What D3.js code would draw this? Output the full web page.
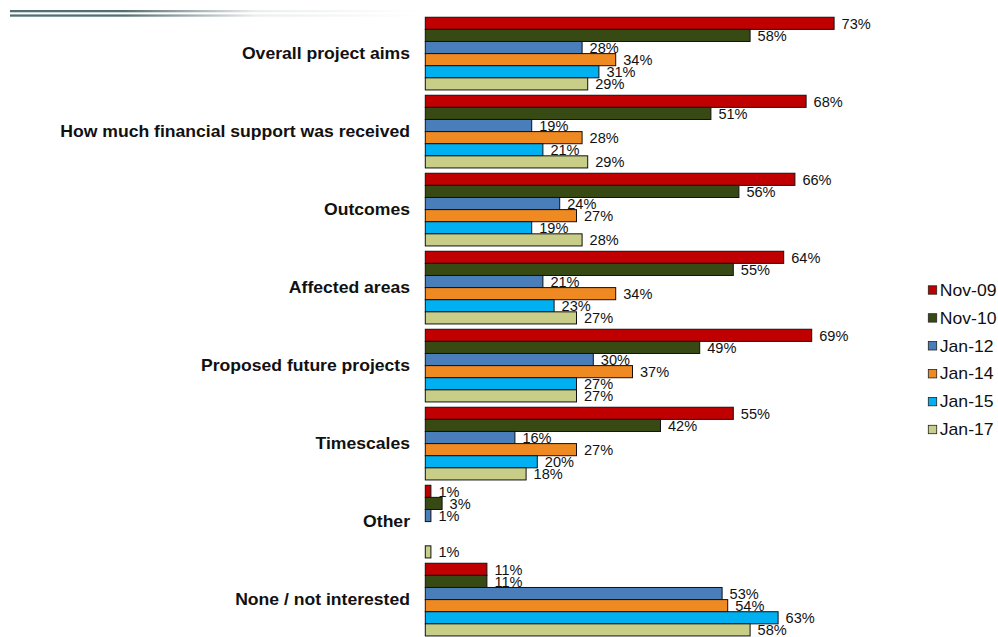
<!DOCTYPE html>
<html>
<head>
<meta charset="utf-8">
<script src="https://cdn.jsdelivr.net/npm/d3@7"></script>
<style>
  html, body { margin: 0; padding: 0; background: #fff; }
  svg { display: block; font-family: "Liberation Sans", Arial, sans-serif; }
</style>
</head>
<body>
<svg id="chart" width="998" height="637"></svg>
<script>
const categories = [
  "Overall project aims",
  "How much financial support was received",
  "Outcomes",
  "Affected areas",
  "Proposed future projects",
  "Timescales",
  "Other",
  "None / not interested"
];
const seriesNames = ["Nov-09", "Nov-10", "Jan-12", "Jan-14", "Jan-15", "Jan-17"];
const nov09 = [73, 68, 66, 64, 69, 55, 1, 11];
const nov10 = [58, 51, 56, 55, 49, 42, 3, 11];
const jan12 = [28, 19, 24, 21, 30, 16, 1, 53];
const jan14 = [34, 28, 27, 34, 37, 27, null, 54];
const jan15 = [31, 21, 19, 23, 27, 20, null, 63];
const jan17 = [29, 29, 28, 27, 27, 18, 1, 58];
const seriesColors = ["#C00000", "#384A14", "#4A7EBB", "#EF8A22", "#00B0F0", "#C8CE88"];

const seriesValues = [nov09, nov10, jan12, jan14, jan15, jan17];

const svg = d3.select("#chart");

// top decorative double rule
const defs = svg.append("defs");
const grad = defs.append("linearGradient").attr("id", "ruleGrad")
  .attr("x1", "0%").attr("x2", "100%").attr("y1", "0%").attr("y2", "0%");
grad.append("stop").attr("offset", "0%").attr("stop-color", "#566E73").attr("stop-opacity", 1);
grad.append("stop").attr("offset", "28%").attr("stop-color", "#566E73").attr("stop-opacity", 1);
grad.append("stop").attr("offset", "60%").attr("stop-color", "#566E73").attr("stop-opacity", 0.12);
grad.append("stop").attr("offset", "100%").attr("stop-color", "#566E73").attr("stop-opacity", 0);
svg.append("rect").attr("x", 10).attr("y", 10).attr("width", 410).attr("height", 2.3).attr("fill", "url(#ruleGrad)");
svg.append("rect").attr("x", 10).attr("y", 14.4).attr("width", 410).attr("height", 2.3).attr("fill", "url(#ruleGrad)");

// scales
const x = d3.scaleLinear().domain([0, 100]).range([425.3, 985.3]);
const y = d3.scaleBand().domain(categories).range([14.6, 638.6]).paddingInner(0.068).paddingOuter(0.034);
const ys = d3.scaleBand().domain(seriesNames).range([0, y.bandwidth()]).padding(0);

const rows = [];
categories.forEach((c, ci) => {
  seriesNames.forEach((s, si) => {
    const v = seriesValues[si][ci];
    if (v !== null && v !== undefined) rows.push({ cat: c, series: s, value: v, color: seriesColors[si] });
  });
});

// bars
svg.append("g").selectAll("rect").data(rows).join("rect")
  .attr("x", x(0))
  .attr("y", d => y(d.cat) + ys(d.series))
  .attr("width", d => x(d.value) - x(0))
  .attr("height", ys.bandwidth())
  .attr("fill", d => d.color)
  .attr("stroke", "#111")
  .attr("stroke-width", 1);

// value labels
svg.append("g").selectAll("text").data(rows).join("text")
  .attr("transform", d => `translate(${x(d.value) + 7.5},${y(d.cat) + ys(d.series) + ys.bandwidth() / 2}) scale(1.04,1)`)
  .attr("dy", "0.4em")
  .attr("font-size", 14)
  .attr("fill", "#111")
  .text(d => d.value + "%");

// category labels
const yAxis = d3.axisLeft(y).tickSize(0).tickPadding(0);
const ag = svg.append("g").attr("transform", `translate(410,0)`).call(yAxis);
ag.select(".domain").remove();
ag.selectAll(".tick text")
  .attr("font-family", "'Liberation Sans', Arial, sans-serif")
  .attr("font-size", 16)
  .attr("font-weight", "bold")
  .attr("fill", "#111")
  .attr("x", 0)
  .attr("dy", "0.36em")
  .attr("transform", "scale(1.1,1)");

// legend
const ly = d3.scalePoint().domain(seriesNames).range([290, 429.5]);
const lg = svg.append("g").selectAll("g").data(seriesNames).join("g")
  .attr("transform", d => `translate(928.3,${ly(d)})`);
lg.append("rect")
  .attr("x", 0).attr("y", -4.2).attr("width", 8.4).attr("height", 8.4)
  .attr("fill", (d, i) => seriesColors[i])
  .attr("stroke", "#222").attr("stroke-width", 0.8);
lg.append("text")
  .attr("transform", "translate(11.5,0) scale(1.1,1)")
  .attr("dy", "0.36em")
  .attr("font-size", 16)
  .attr("fill", "#111")
  .text(d => d);
</script>
</body>
</html>
